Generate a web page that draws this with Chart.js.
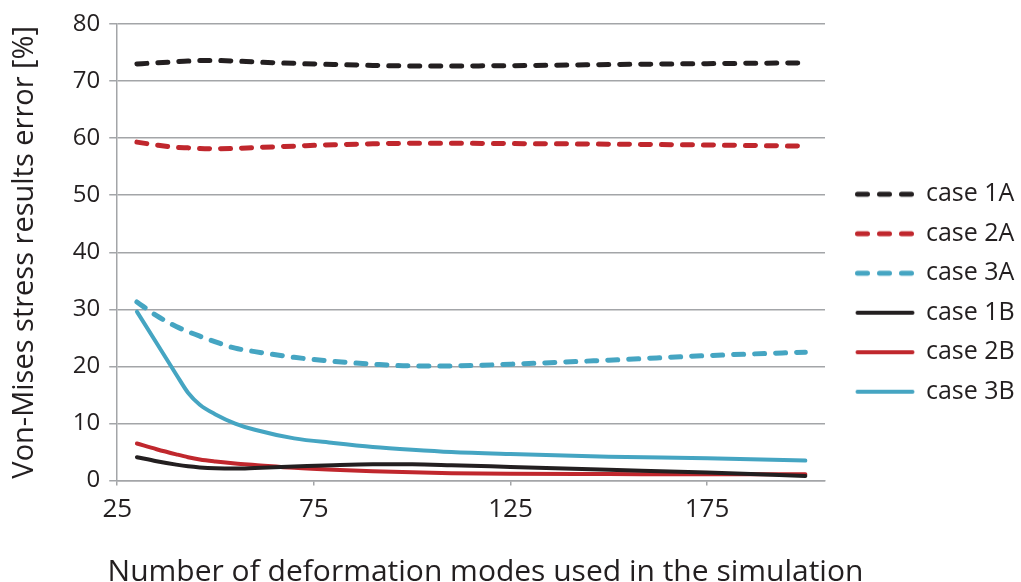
<!DOCTYPE html>
<html>
<head>
<meta charset="utf-8">
<script src="https://cdn.jsdelivr.net/npm/chart.js@4.4.1/dist/chart.umd.min.js"></script>
<style>
  html, body { margin: 0; padding: 0; background: #ffffff; }
  #wrap { width: 1021px; height: 582px; }
</style>
</head>
<body>
<div id="wrap"><canvas id="chart" width="1021" height="582"></canvas></div>
<script>
// Von-Mises stress error vs number of deformation modes

const modes   = [30, 35, 40, 43, 46, 50, 55, 60, 70, 80, 90, 100, 110, 125, 150, 175, 200];
const case1A  = [73.0, 73.2, 73.4, 73.5, 73.6, 73.6, 73.5, 73.35, 73.1, 72.9, 72.75, 72.65, 72.65, 72.7, 72.9, 73.05, 73.2];
const case2A  = [59.3, 58.8, 58.4, 58.3, 58.2, 58.15, 58.2, 58.35, 58.6, 58.85, 59.0, 59.1, 59.1, 59.05, 58.95, 58.8, 58.6];
const case3A  = [31.3, 28.9, 27.0, 26.1, 25.3, 24.3, 23.2, 22.6, 21.6, 20.9, 20.4, 20.1, 20.1, 20.4, 21.1, 21.9, 22.5];
const case1B  = [4.1, 3.4, 2.8, 2.5, 2.3, 2.15, 2.1, 2.2, 2.45, 2.7, 2.85, 2.85, 2.7, 2.4, 1.9, 1.4, 0.8];
const case2B  = [6.5, 5.5, 4.6, 4.1, 3.7, 3.35, 3.0, 2.75, 2.25, 1.9, 1.65, 1.45, 1.3, 1.2, 1.15, 1.1, 1.1];
const case3B  = [29.6, 24.1, 18.6, 15.4, 13.3, 11.6, 10.0, 8.9, 7.4, 6.6, 5.9, 5.4, 5.0, 4.65, 4.2, 3.9, 3.5];
const xTicks  = [25, 75, 125, 175];

const BLACK = '#231f20';
const RED = '#c0272d';
const CYAN = '#45a5c2';
const GRID = '#a3a5a8';
const FONT = "'Open Sans', 'Noto Sans', sans-serif";

// small legend marker (solid or dashed stroke)
function legendMarker(color, width, dashed) {
    const c = document.createElement('canvas');
    c.width = 60;
    c.height = 10;
    const g = c.getContext('2d');
    g.strokeStyle = color;
    g.lineWidth = width;
    g.lineCap = 'round';
    if (dashed) g.setLineDash([10, 12]);
    g.beginPath();
    g.moveTo(2.5, 5);
    g.lineTo(57.5, 5);
    g.stroke();
    return c;
}

function series(label, values, color, dashed) {
    const w = dashed ? 5 : 4;
    return {
        label: label,
        data: modes.map((m, i) => ({ x: m, y: values[i] })),
        borderColor: color,
        backgroundColor: color,
        borderWidth: w,
        borderDash: dashed ? [10, 11] : [],
        borderCapStyle: 'round',
        cubicInterpolationMode: 'monotone',
        pointRadius: 0,
        pointStyle: legendMarker(color, w, dashed),
        fill: false
    };
}

const datasets = [
    series('case 1A', case1A, BLACK, true),
    series('case 2A', case2A, RED, true),
    series('case 3A', case3A, CYAN, true),
    series('case 1B', case1B, BLACK, false),
    series('case 2B', case2B, RED, false),
    series('case 3B', case3B, CYAN, false)
];

// legend box: narrow for layout, then widened and nudged into place
const legendPlace = {
    id: 'legendPlace',
    beforeInit: function(chart) {
        const originalFit = chart.legend.fit;
        chart.legend.fit = function fit() {
            originalFit.bind(chart.legend)();
            this.width = 146;
        };
    },
    afterLayout: function(chart) {
        const lg = chart.legend;
        lg.left += 17;
        lg.width = 196;
        lg.right = lg.left + 196;
        lg.top -= 10;
        lg.bottom -= 10;
    }
};

const ctx = document.getElementById('chart').getContext('2d');
new Chart(ctx, {
    type: 'line',
    data: { datasets: datasets },
    plugins: [legendPlace],
    options: {
        responsive: false,
        animation: false,
        devicePixelRatio: 1,
        layout: { padding: { top: 24, right: 50, bottom: 0, left: 0 } },
        plugins: {
            legend: {
                display: true,
                position: 'right',
                align: 'center',
                labels: {
                    color: BLACK,
                    usePointStyle: true,
                    pointStyleWidth: 57,
                    padding: 14.5,
                    font: { family: FONT, size: 25 }
                }
            },
            title: {
                display: true,
                position: 'bottom',
                text: 'Number of deformation modes used in the simulation',
                color: BLACK,
                padding: { top: 21.7, bottom: -8.5 },
                font: { family: FONT, size: 30, weight: 'normal' }
            },
            tooltip: { enabled: false }
        },
        scales: {
            x: {
                type: 'linear',
                min: 25,
                max: 205,
                afterBuildTicks: (axis) => { axis.ticks = xTicks.map(v => ({ value: v })); },
                grid: {
                    display: true,
                    drawOnChartArea: false,
                    color: GRID,
                    lineWidth: 1.5,
                    tickLength: 5
                },
                border: { display: true, color: GRID, width: 1.5 },
                ticks: {
                    color: BLACK,
                    padding: 8,
                    maxRotation: 0,
                    font: { family: FONT, size: 26 }
                }
            },
            y: {
                type: 'linear',
                min: 0,
                max: 80,
                ticks: {
                    stepSize: 10,
                    color: BLACK,
                    padding: 9,
                    font: { family: FONT, size: 24 }
                },
                grid: {
                    color: GRID,
                    lineWidth: 1.5,
                    tickLength: 8
                },
                border: { display: true, color: GRID, width: 1.5 },
                title: {
                    display: true,
                    text: 'Von-Mises stress results error [%]',
                    color: BLACK,
                    padding: { top: 7, bottom: 22 },
                    font: { family: FONT, size: 29 }
                }
            }
        }
    }
});
</script>
</body>
</html>
